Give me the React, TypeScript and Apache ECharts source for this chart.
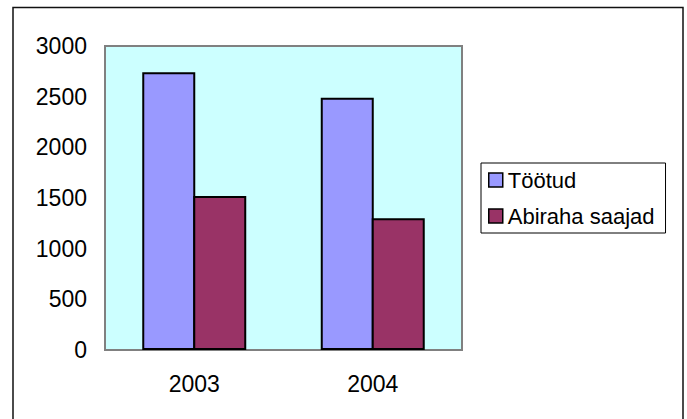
import React, { useEffect, useRef } from "react";
import * as echarts from "echarts";

const categories = ["2003", "2004"];
const seriesNames = ["Töötud", "Abiraha saajad"];
const tootud = [2740, 2490];
const abiraha = [1520, 1300];
const yTicks = { min: 0, max: 3000, interval: 500 };

export default function App() {
  const ref = useRef<HTMLDivElement>(null);
  useEffect(() => {
    if (!ref.current) return;
    const chart = echarts.init(ref.current, null, { renderer: "svg" });
    const font = "Arial, 'Liberation Sans', sans-serif";
    chart.setOption({
      animation: false,
      backgroundColor: "#ffffff",
      textStyle: { fontFamily: font },
      graphic: [
        {
          type: "polyline",
          shape: { points: [[13, 425], [13, 7.5], [683, 7.5], [683, 425]] },
          style: { stroke: "#111", lineWidth: 1.5, fill: null },
          silent: true,
        },
      ],
      grid: {
        left: 105,
        top: 46,
        right: 225,
        bottom: 69,
        show: true,
        backgroundColor: "#CCFFFF",
        borderColor: "#808080",
        borderWidth: 2,
      },
      legend: {
        orient: "vertical",
        left: 481,
        top: 163,
        padding: [6, 11, 6, 7],
        itemGap: 14,
        itemWidth: 14,
        itemHeight: 14,
        borderColor: "#000",
        borderWidth: 1,
        backgroundColor: "#fff",
        icon: "rect",
        textStyle: { fontSize: 22, color: "#000", fontFamily: font, lineHeight: 22 },
        itemStyle: { borderColor: "#000", borderWidth: 1.5 },
        data: seriesNames,
      },
      xAxis: {
        type: "category",
        data: categories,
        axisLine: { show: true, lineStyle: { color: "#808080", width: 2 } },
        axisTick: { show: false },
        axisLabel: { fontSize: 23, color: "#000", margin: 22, fontFamily: font },
        splitLine: { show: false },
      },
      yAxis: {
        type: "value",
        min: yTicks.min,
        max: yTicks.max,
        interval: yTicks.interval,
        axisLine: { show: true, lineStyle: { color: "#808080", width: 2 } },
        axisTick: { show: false },
        axisLabel: {
          fontSize: 23,
          color: "#000",
          margin: 18,
          fontFamily: font,
          formatter: (v: number) => String(v),
        },
        splitLine: { show: false },
      },
      series: [
        {
          name: seriesNames[0],
          type: "bar",
          data: tootud,
          barWidth: 53,
          barGap: "-3.8%",
          itemStyle: { color: "#9999FF", borderColor: "#000", borderWidth: 2 },
        },
        {
          name: seriesNames[1],
          type: "bar",
          data: abiraha,
          barWidth: 53,
          barGap: "-3.8%",
          itemStyle: { color: "#993366", borderColor: "#000", borderWidth: 2 },
        },
      ],
    });
    return () => chart.dispose();
  }, []);
  return <div ref={ref} style={{ width: 687, height: 419, position: "absolute", left: 0, top: 0 }} />;
}
